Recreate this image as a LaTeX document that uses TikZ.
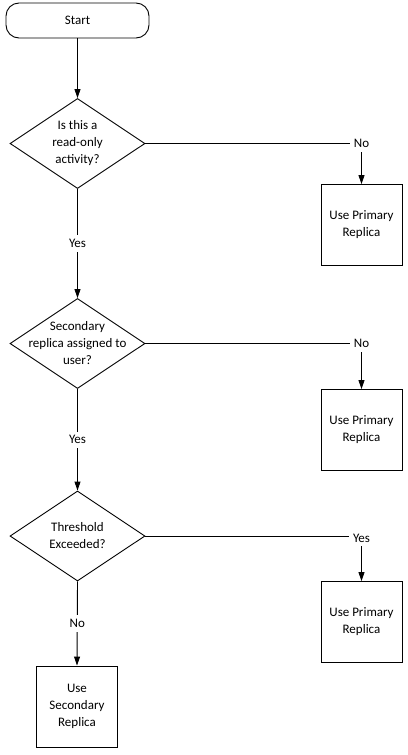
\documentclass[tikz,border=0pt]{standalone}
\usepackage{fontspec}
\setmainfont{Carlito}
\usetikzlibrary{arrows.meta,shapes.geometric}
\begin{document}
\begin{tikzpicture}[x=1pt,y=-1pt,
  font=\fontsize{13}{17}\selectfont,
  line width=0.9pt,
  box/.style={draw, minimum width=81pt, minimum height=81pt, align=center, inner sep=0pt},
  dec/.style={draw, diamond, minimum width=135pt, minimum height=90pt, inner sep=0pt},
  pill/.style={draw, rounded corners=13pt, minimum width=143pt, minimum height=35pt},
  txt/.style={align=center, inner sep=0pt},
  lbl/.style={fill=white, inner sep=4pt},
  arr/.style={-{Triangle[length=9pt,width=6pt]}}
]
\useasboundingbox (0,0) rectangle (407,755);
\node[pill] (start) at (77.5,20.5) {Start};
\node[dec] (d1) at (77.5,143.5) {};
\node[txt] (t1) at (d1) {Is this a\\read-only\\activity?};
\node[dec] (d2) at (77.5,343.5) {};
\node[txt] (t2) at (d2) {Secondary\\replica assigned to\\user?};
\node[dec] (d3) at (77.5,536) {};
\node[txt] (t3) at (d3) {Threshold\\Exceeded?};
\node[box] (b1) at (361.5,225) {Use Primary\\Replica};
\node[box] (b2) at (361.5,430) {Use Primary\\Replica};
\node[box] (b3) at (361.5,622) {Use Primary\\Replica};
\node[box] (b4) at (77,706.5) {Use\\Secondary\\Replica};

\draw[arr] (start) -- (d1);
\draw[arr] (d1.east) -| node[lbl, pos=0.5] {No} (b1.north);
\draw[arr] (d1.south) -- node[lbl] {Yes} (d2.north);
\draw[arr] (d2.east) -| node[lbl, pos=0.5] {No} (b2.north);
\draw[arr] (d2.south) -- node[lbl] {Yes} (d3.north);
\draw[arr] (d3.east) -| node[lbl, pos=0.5, yshift=-2pt] {Yes} (b3.north);
\draw[arr] (d3.south) -- node[lbl] {No} (b4.north);
\end{tikzpicture}
\end{document}
